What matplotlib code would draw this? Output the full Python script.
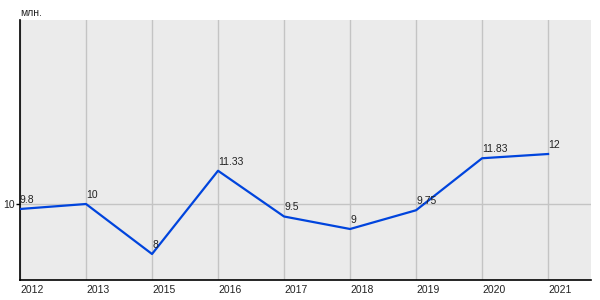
import matplotlib
matplotlib.use("Agg")
import matplotlib.pyplot as plt

plt.rcParams["font.family"] = ["Liberation Sans", "DejaVu Sans"]

years = ["2012", "2013", "2015", "2016", "2017", "2018", "2019", "2020", "2021"]
values = [9.8, 10, 8, 11.33, 9.5, 9, 9.75, 11.83, 12]
labels = ["9.8", "10", "8", "11.33", "9.5", "9", "9.75", "11.83", "12"]
yticks = [10]

fig = plt.figure(figsize=(6, 3), dpi=100)
ax = fig.add_axes([20/600, 1 - 279.5/300, (591-20)/600, (279.5-20)/300])
ax.set_facecolor("#ebebeb")
x = list(range(len(years)))
ax.plot(x, values, color="#0044dd", lw=1.6, zorder=3)
for xi, v, lab in zip(x, values, labels):
    ax.annotate(lab, (xi, v), xytext=(0, 3), textcoords="offset points",
                fontsize=7.5, color="#222222", ha="left", va="bottom")
ax.set_xlim(0, 8.65)
ax.set_ylim(6.98, 17.36)
ax.set_xticks(x)
ax.set_xticklabels(years, fontsize=7.5, color="#222222", ha="left")
ax.set_yticks(yticks)
ax.set_yticklabels([str(t) for t in yticks], fontsize=7.5, color="#222222")
ax.grid(True, color="#c4c4c4", lw=1)
ax.set_axisbelow(True)
ax.tick_params(axis="x", length=0, pad=4)
ax.tick_params(axis="y", length=3, width=1, pad=1, color="black")
for s in ["top", "right"]:
    ax.spines[s].set_visible(False)
for s in ["left", "bottom"]:
    ax.spines[s].set_color("black")
    ax.spines[s].set_linewidth(1.2)
fig.text(20/600, 1 - 13/300, "млн.", fontsize=7.5, color="#222222", ha="left", va="center")
fig.savefig("out.png", dpi=100)
